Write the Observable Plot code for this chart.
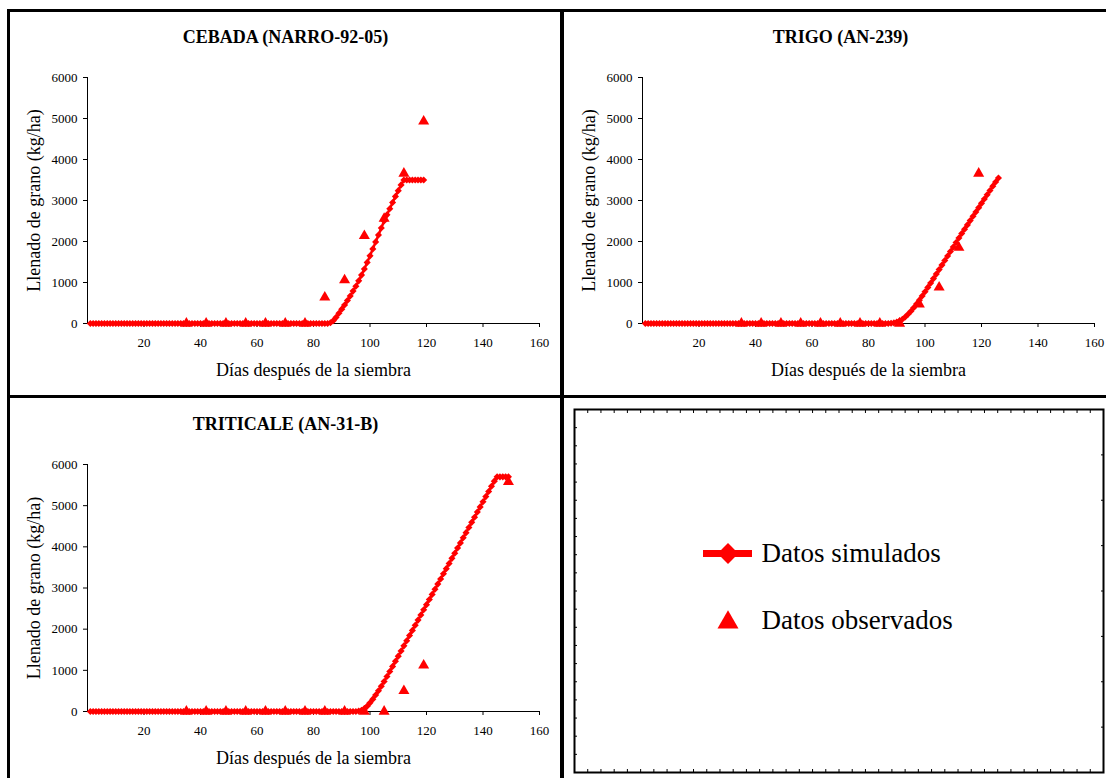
<!DOCTYPE html>
<html>
<head>
<meta charset="utf-8">
<script src="https://cdn.jsdelivr.net/npm/d3@7"></script>
<script src="https://cdn.jsdelivr.net/npm/@observablehq/plot@0.6"></script>
<style>
  body { margin: 0; background: #fff; }
  #fig { position: relative; width: 1106px; height: 778px; overflow: hidden; background: #fff;
         font-family: "Liberation Serif", "Times New Roman", serif; }
  #fig svg { position: absolute; max-width: none; }
  #fig svg, #fig svg text { font-family: "Liberation Serif", "Times New Roman", serif !important; }
  .rule { position: absolute; background: #000; z-index: 5; }
</style>
</head>
<body>
<div id="fig"></div>
<script>
// Axis ticks shared by the three panels
const xTicks = [20, 40, 60, 80, 100, 120, 140, 160];
const yTicks = [0, 1000, 2000, 3000, 4000, 5000, 6000];

const xLabel = "Días después de la siembra";
const yLabel = "Llenado de grano (kg/ha)";

// Simulated grain filling (kg/ha), one value per day starting on day 1
const cebadaSim = [
  0, 0, 0, 0, 0, 0, 0, 0, 0, 0,
  0, 0, 0, 0, 0, 0, 0, 0, 0, 0,
  0, 0, 0, 0, 0, 0, 0, 0, 0, 0,
  0, 0, 0, 0, 0, 0, 0, 0, 0, 0,
  0, 0, 0, 0, 0, 0, 0, 0, 0, 0,
  0, 0, 0, 0, 0, 0, 0, 0, 0, 0,
  0, 0, 0, 0, 0, 0, 0, 0, 0, 0,
  0, 0, 0, 0, 0, 0, 0, 0, 0, 0,
  0, 0, 0, 0, 0,
  20, 70, 150, 250, 350, 450, 560, 670, 790, 910,
  1040, 1180, 1330, 1490, 1650, 1820, 1990, 2160, 2330, 2500,
  2650, 2800, 2950, 3100, 3240, 3380, 3500,
  3500, 3500, 3500, 3500, 3500, 3500, 3500
];
const trigoSim = [
  0, 0, 0, 0, 0, 0, 0, 0, 0, 0,
  0, 0, 0, 0, 0, 0, 0, 0, 0, 0,
  0, 0, 0, 0, 0, 0, 0, 0, 0, 0,
  0, 0, 0, 0, 0, 0, 0, 0, 0, 0,
  0, 0, 0, 0, 0, 0, 0, 0, 0, 0,
  0, 0, 0, 0, 0, 0, 0, 0, 0, 0,
  0, 0, 0, 0, 0, 0, 0, 0, 0, 0,
  0, 0, 0, 0, 0, 0, 0, 0, 0, 0,
  0, 0, 0, 0, 0, 0, 0,
  5, 15, 35, 65, 105, 160, 225, 300, 385, 475,
  570, 670, 775, 880, 985, 1095, 1205, 1315, 1425, 1535,
  1645, 1755, 1865, 1975, 2085, 2195, 2300, 2405, 2510, 2615,
  2720, 2825, 2930, 3035, 3140, 3245, 3350, 3450, 3550
];
const triticaleSim = [
  0, 0, 0, 0, 0, 0, 0, 0, 0, 0,
  0, 0, 0, 0, 0, 0, 0, 0, 0, 0,
  0, 0, 0, 0, 0, 0, 0, 0, 0, 0,
  0, 0, 0, 0, 0, 0, 0, 0, 0, 0,
  0, 0, 0, 0, 0, 0, 0, 0, 0, 0,
  0, 0, 0, 0, 0, 0, 0, 0, 0, 0,
  0, 0, 0, 0, 0, 0, 0, 0, 0, 0,
  0, 0, 0, 0, 0, 0, 0, 0, 0, 0,
  0, 0, 0, 0, 0, 0, 0, 0, 0, 0,
  0, 0, 0, 0, 0,
  10, 30, 70, 130, 210, 300, 400, 505, 615, 730,
  850, 970, 1095, 1220, 1345, 1470, 1595, 1720, 1845, 1970,
  2095, 2220, 2345, 2470, 2595, 2720, 2845, 2970, 3095, 3220,
  3345, 3470, 3595, 3720, 3845, 3970, 4095, 4220, 4345, 4470,
  4595, 4720, 4845, 4970, 5095, 5220, 5345, 5470, 5595, 5700,
  5700, 5700, 5700, 5700
];

// Field observations (day after sowing, kg/ha)
const cebadaObsDays = [35, 42, 49, 56, 63, 70, 77, 84, 91, 98, 105, 112, 119];
const cebadaObs     = [0, 0, 0, 0, 0, 0, 0, 640, 1060, 2140, 2560, 3660, 4930];
const trigoObsDays  = [35, 42, 49, 56, 63, 70, 77, 84, 91, 98, 105, 112, 119];
const trigoObs      = [0, 0, 0, 0, 0, 0, 0, 0, 0, 470, 880, 1850, 3660];
const triticaleObsDays = [35, 42, 49, 56, 63, 70, 77, 84, 91, 98, 105, 112, 119, 149];
const triticaleObs     = [0, 0, 0, 0, 0, 0, 0, 0, 0, 0, 0, 500, 1120, 5580];

const legendLabels = ["Datos simulados", "Datos observados"];

const RED = "#ff0000";
const SERIF = '"Liberation Serif", "Times New Roman", serif';
const fig = document.getElementById("fig");

function place(svg, left, top) {
  svg.style.left = left + "px";
  svg.style.top = top + "px";
  fig.appendChild(svg);
}

function panel({title, sim, obsDays, obs, left, top, width, height, margin}) {
  const simData = sim.map((v, i) => ({day: i + 1, value: v}));
  const obsData = obsDays.map((d, i) => ({day: d, value: obs[i]}));
  const svg = Plot.plot({
    width, height,
    marginLeft: margin[0], marginRight: margin[1], marginTop: margin[2], marginBottom: margin[3],
    style: {fontFamily: SERIF, fontSize: "13px", color: "#000", background: "transparent", overflow: "visible"},
    x: {domain: [0, 160], ticks: xTicks, tickSize: 4, tickPadding: 10, label: null},
    y: {domain: [0, 6000], ticks: yTicks, tickSize: 4, tickPadding: 6, label: null, tickFormat: d => String(d)},
    marks: [
      Plot.ruleY([0], {stroke: "#000"}),
      Plot.ruleX([0], {stroke: "#000"}),
      Plot.line(simData, {x: "day", y: "value", stroke: RED, strokeWidth: 2.5}),
      Plot.dot(simData, {x: "day", y: "value", symbol: "diamond2", r: 3.2, fill: RED, stroke: "none"}),
      Plot.dot(obsData, {x: "day", y: "value", symbol: "triangle", r: 4.1, fill: RED, stroke: "none"}),
      Plot.text([title], {text: d => d, frameAnchor: "top", textAnchor: "middle", lineAnchor: "middle",
                          dx: -28, dy: -40, fontSize: 18, fontWeight: "bold", fill: "#000"}),
      Plot.text([yLabel], {text: d => d, frameAnchor: "left", textAnchor: "middle", lineAnchor: "middle",
                           rotate: -90, dx: -53, fontSize: 18, fill: "#000"}),
      Plot.text([xLabel], {text: d => d, frameAnchor: "bottom", textAnchor: "middle", lineAnchor: "middle",
                           dy: 47, fontSize: 18, fill: "#000"})
    ]
  });
  place(svg, left, top);
}

panel({title: "CEBADA (NARRO-92-05)", sim: cebadaSim, obsDays: cebadaObsDays, obs: cebadaObs,
       left: 0, top: 0, width: 560, height: 395, margin: [87, 21, 77, 72]});
panel({title: "TRIGO (AN-239)", sim: trigoSim, obsDays: trigoObsDays, obs: trigoObs,
       left: 564, top: 0, width: 542, height: 395, margin: [78, 12, 77, 72]});
panel({title: "TRITICALE (AN-31-B)", sim: triticaleSim, obsDays: triticaleObsDays, obs: triticaleObs,
       left: 0, top: 398, width: 560, height: 380, margin: [87, 21, 66, 67]});

// Legend cell: an empty plot area with inward minor ticks around its border
const legendFrame = Plot.plot({
  width: 542, height: 380,
  marginLeft: 10, marginRight: 3, marginTop: 11, marginBottom: 6,
  style: {background: "transparent", overflow: "visible"},
  x: {domain: [0, 40], axis: null},
  y: {domain: [0, 20], axis: null},
  marks: [
    Plot.axisX({anchor: "top", ticks: d3.range(0, 41), tickSize: -3, tickFormat: () => "", label: null, stroke: "#000"}),
    Plot.axisX({anchor: "bottom", ticks: d3.range(0, 41), tickSize: -3, tickFormat: () => "", label: null, stroke: "#000"}),
    Plot.axisY({anchor: "left", ticks: d3.range(0, 21), tickSize: -3, tickFormat: () => "", label: null, stroke: "#000"}),
    Plot.axisY({anchor: "right", ticks: d3.range(0, 21, 2.5), tickSize: -3, tickFormat: () => "", label: null, stroke: "#000"}),
    Plot.frame({stroke: "#000", strokeWidth: 2})
  ]
});
place(legendFrame, 564, 398);

// Legend entries: swatch (line + diamond, or triangle) then the label
const legendItems = Plot.plot({
  width: 542, height: 380, margin: 0,
  style: {fontFamily: SERIF, background: "transparent", overflow: "visible"},
  x: {domain: [0, 1], range: [139, 188], axis: null},
  y: {type: "point", domain: legendLabels, range: [155, 222.5], padding: 0, axis: null},
  marks: [
    Plot.ruleY([legendLabels[0]], {x1: 0, x2: 1, stroke: RED, strokeWidth: 7}),
    Plot.dot([legendLabels[0]], {x: 0.5, y: d => d, symbol: "diamond2", r: 9.4, fill: RED, stroke: "none"}),
    Plot.dot([legendLabels[1]], {x: 0.5, y: d => d, symbol: "triangle", r: 7.8, dy: 2, fill: RED, stroke: "none"}),
    Plot.text(legendLabels, {x: 1, y: d => d, text: d => d, dx: 9, textAnchor: "start", lineAnchor: "middle",
                             fontSize: 27, fill: "#000"})
  ]
});
place(legendItems, 564, 398);

// Thick cell dividers
[
  {left: 7, top: 9, width: 3, height: 769},
  {left: 7, top: 9, width: 1099, height: 3},
  {left: 560, top: 9, width: 4, height: 769},
  {left: 7, top: 395, width: 1099, height: 3}
].forEach(r => {
  const div = document.createElement("div");
  div.className = "rule";
  Object.assign(div.style, {left: r.left + "px", top: r.top + "px", width: r.width + "px", height: r.height + "px"});
  fig.appendChild(div);
});
</script>
</body>
</html>
